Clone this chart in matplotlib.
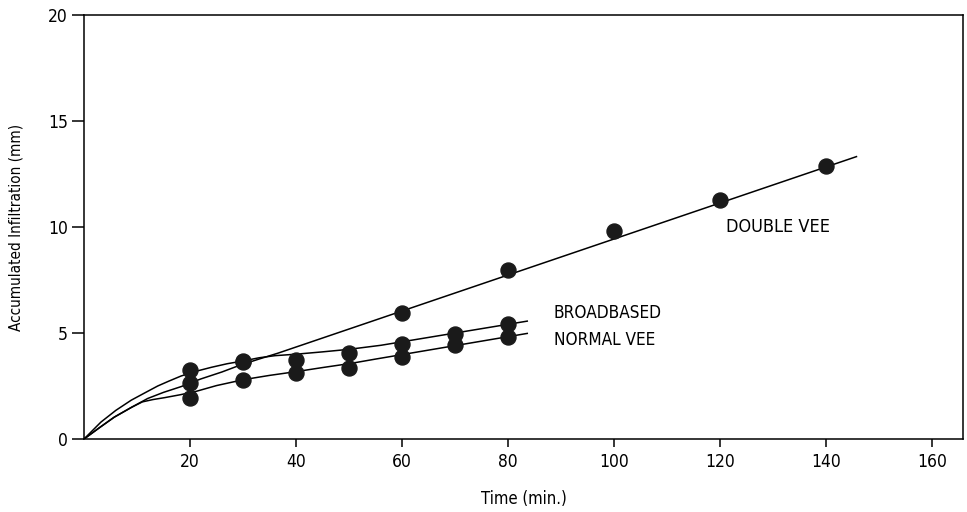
import matplotlib
matplotlib.use("Agg")
import matplotlib.pyplot as plt

plt.rcParams['font.family'] = ['Liberation Sans Narrow', 'DejaVu Sans']
plt.rcParams['font.stretch'] = 'condensed'

# measured points (time in min, accumulated infiltration in mm)
double_t = [20, 30, 60, 80, 100, 120, 140]
double_y = [2.62, 3.62, 5.92, 7.95, 9.80, 11.29, 12.89]
broad_t = [20, 30, 40, 50, 60, 70, 80]
broad_y = [3.25, 3.67, 3.72, 4.06, 4.50, 4.97, 5.44]
normal_t = [20, 30, 40, 50, 60, 70, 80]
normal_y = [1.94, 2.78, 3.09, 3.37, 3.87, 4.42, 4.81]

# fitted curves
double_fit_t = [0, 3, 5.7, 9, 12, 15, 18.3, 22, 26, 29.4, 33, 36.6, 145.7]
double_fit_y = [0, 0.55, 1.03, 1.5, 1.91, 2.2, 2.47, 2.83, 3.16, 3.48, 3.77, 4.05, 13.32]
broad_fit_t = [0, 3.2, 6, 8.9, 11.5, 13.9, 16, 18.3, 20.9, 24, 27, 30, 33, 36, 40, 45, 50, 56, 83.6]
broad_fit_y = [0, 0.8, 1.35, 1.83, 2.18, 2.5, 2.73, 2.97, 3.18, 3.38, 3.55, 3.68, 3.83, 3.93,
               4.0, 4.11, 4.23, 4.42, 5.56]
normal_fit_t = [0, 3, 5.7, 9, 11, 13, 15.2, 18, 20.9, 25, 30.1, 35, 39.8, 45, 50.2, 55, 83.6]
normal_fit_y = [0, 0.55, 1.03, 1.5, 1.75, 1.86, 1.95, 2.08, 2.23, 2.52, 2.8, 3.0, 3.17, 3.37,
                3.56, 3.77, 4.98]

x_ticks = [20, 40, 60, 80, 100, 120, 140, 160]
y_ticks = [0, 5, 10, 15, 20]

fig = plt.figure(figsize=(9.67, 5.12), dpi=100)
ax = fig.add_axes([0.0869, 0.1426, 0.9090, 0.8281])

for t, y in [(double_fit_t, double_fit_y), (broad_fit_t, broad_fit_y), (normal_fit_t, normal_fit_y)]:
    ax.plot(t, y, color='black', linewidth=1.1)

for t, y in [(double_t, double_y), (broad_t, broad_y), (normal_t, normal_y)]:
    ax.plot(t, y, linestyle='none', marker='o', markersize=10.8,
            markerfacecolor='#1a1a1a', markeredgecolor='#1a1a1a')

ax.text(121.1, 9.98, 'DOUBLE VEE', fontsize=13, va='center', ha='left')
ax.text(88.6, 5.93, 'BROADBASED', fontsize=12.3, va='center', ha='left')
ax.text(88.6, 4.66, 'NORMAL VEE', fontsize=12.3, va='center', ha='left')

ax.set_xlim(0, 165.8)
ax.set_ylim(0, 20)
ax.set_xticks(x_ticks)
ax.set_yticks(y_ticks)
ax.tick_params(axis='x', length=6, width=1.1, pad=4, labelsize=12.5)
ax.tick_params(axis='y', length=9, width=1.1, pad=2.5, labelsize=12.5)
for s in ax.spines.values():
    s.set_linewidth(1.1)

ax.set_xlabel('Time (min.)', fontsize=12, labelpad=14)
ax.set_ylabel('Accumulated Infiltration (mm)', fontsize=11, labelpad=18)

fig.savefig('out.png', dpi=100)
